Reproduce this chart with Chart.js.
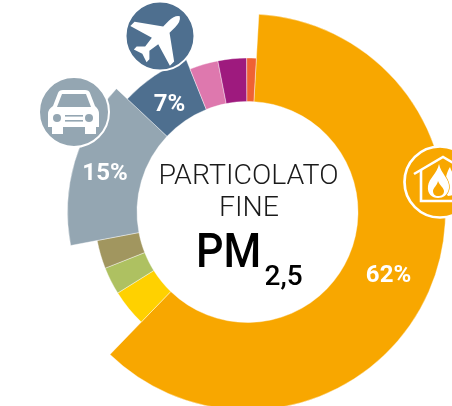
<!DOCTYPE html>
<html><head><meta charset="utf-8">
<style>
html,body{margin:0;padding:0;background:#fff;overflow:hidden;width:452px;height:406px}
#w{position:absolute;left:0;top:0;width:495px;height:424px}
</style>
<script src="https://cdn.jsdelivr.net/npm/chart.js@4"></script>
</head><body>
<div id="w"><canvas id="c" width="495" height="424"></canvas></div>
<script>
const categories = ['Riscaldamento','Altro 1','Altro 2','Altro 3','Trasporto su strada','Trasporto aereo','Altro 4','Altro 5','Altro 6'];
const shares = [61.3, 3.9, 2.9, 3.0, 15.0, 6.9, 3.0, 3.0, 1.0];
const radii = [198, 153, 153, 153, 180, 165, 154, 154, 154];
const colors = ['#F8A700','#FFD100','#AEC161','#A1965F','#94A6B2','#4E6F8F','#DE78AE','#9E1A7E','#EF6234'];
const percentLabels = ['62%','15%','7%'];
const titleLines = ['PARTICOLATO','FINE'];

const SANS = 'Roboto, sans-serif';
function ring(ctx,x,y,r,fill,w){ctx.beginPath();ctx.arc(x,y,r,0,Math.PI*2);ctx.fillStyle=fill;ctx.fill();ctx.lineWidth=w;ctx.strokeStyle='#fff';ctx.stroke();}
function drawCar(ctx){
  ring(ctx,74,112,35,'#94A6B2',2);
  ctx.fillStyle='#fff';
  ctx.beginPath();
  ctx.moveTo(53,106);ctx.lineTo(58,93);ctx.quadraticCurveTo(59,90,63,90);ctx.lineTo(85,90);ctx.quadraticCurveTo(89,90,90,93);ctx.lineTo(95,106);
  ctx.quadraticCurveTo(99,109,99,114);ctx.lineTo(99,127);ctx.lineTo(96,127);ctx.lineTo(96,134);ctx.lineTo(85,134);ctx.lineTo(85,127);
  ctx.lineTo(63,127);ctx.lineTo(63,134);ctx.lineTo(52,134);ctx.lineTo(52,127);ctx.lineTo(48,127);ctx.lineTo(48,114);ctx.quadraticCurveTo(48,109,53,106);ctx.closePath();ctx.fill();
  ctx.fillStyle='#94A6B2';
  ctx.beginPath();ctx.moveTo(57,107);ctx.lineTo(62,94);ctx.lineTo(86,94);ctx.lineTo(91,107);ctx.closePath();ctx.fill();
  ctx.beginPath();ctx.arc(57,118,4,0,7);ctx.fill();ctx.beginPath();ctx.arc(89,118,4,0,7);ctx.fill();
  ctx.fillRect(65,115,18,1.6);ctx.fillRect(65,120,18,1.6);
}
function drawPlane(ctx){
  ring(ctx,160,36,34.5,'#4E6F8F',2);
  ctx.save();ctx.translate(160,36);ctx.rotate(Math.PI/4);ctx.fillStyle='#fff';
  ctx.beginPath();
  ctx.moveTo(0,-28);ctx.quadraticCurveTo(4.5,-25,4.5,-17);ctx.lineTo(4.5,-9);ctx.lineTo(28,8);ctx.lineTo(28,14);ctx.lineTo(4.5,7);ctx.lineTo(3,18);
  ctx.lineTo(9,24);ctx.lineTo(9,28);ctx.lineTo(0,25);ctx.lineTo(-9,28);ctx.lineTo(-9,24);ctx.lineTo(-3,18);ctx.lineTo(-4.5,7);ctx.lineTo(-28,14);ctx.lineTo(-28,8);ctx.lineTo(-4.5,-9);ctx.lineTo(-4.5,-17);ctx.quadraticCurveTo(-4.5,-25,0,-28);
  ctx.closePath();ctx.fill();ctx.restore();
}
function drawHouse(ctx){
  ring(ctx,440,182,35.5,'#F8A700',2.7);
  ctx.strokeStyle='#fff';ctx.lineWidth=2.6;ctx.lineJoin='miter';
  ctx.beginPath();ctx.moveTo(414,174);ctx.lineTo(443,157);ctx.lineTo(472,174);ctx.stroke();
  ctx.beginPath();ctx.moveTo(421,170);ctx.lineTo(421,201);ctx.lineTo(470,201);ctx.lineTo(470,170);ctx.stroke();
  ctx.fillStyle='#fff';
  ctx.beginPath();ctx.moveTo(450,167);ctx.bezierCurveTo(452,175,460,180,459,188);ctx.bezierCurveTo(458,193,452,196,448,196);ctx.bezierCurveTo(444,192,444,176,450,167);ctx.closePath();ctx.fill();
  ctx.beginPath();ctx.moveTo(439,164);ctx.bezierCurveTo(441,174,450,179,449,188);ctx.bezierCurveTo(448,195,443,198,438,198);ctx.bezierCurveTo(432,198,427,194,428,186);ctx.bezierCurveTo(429,178,437,174,439,164);ctx.closePath();ctx.lineWidth=1.5;ctx.strokeStyle='#F8A700';ctx.stroke();ctx.fill();
  ctx.fillStyle='#F8A700';
  ctx.beginPath();ctx.moveTo(438,181);ctx.bezierCurveTo(440,186,444,188,444,191);ctx.bezierCurveTo(444,195,441,196,438,196);ctx.bezierCurveTo(435,196,433,194,433,191);ctx.bezierCurveTo(433,188,437,186,438,181);ctx.closePath();ctx.fill();
}
const customRadii = {
  id:'customRadii',
  afterDatasetsUpdate(chart){
    chart.getDatasetMeta(0).data.forEach((arc,i)=>{arc.outerRadius=radii[i];});
  }
};
const decor = {
  id:'decor',
  afterDatasetsDraw(chart){
    const ctx=chart.ctx;
    ctx.save();
    drawCar(ctx);drawPlane(ctx);drawHouse(ctx);
    ctx.textAlign='center';ctx.textBaseline='alphabetic';
    ctx.fillStyle='#fff';ctx.font='700 24px '+SANS;
    ctx.fillText(percentLabels[0],388.5,282);
    ctx.fillText(percentLabels[1],105,180);
    ctx.fillText(percentLabels[2],169.5,111);
    ctx.fillStyle='#1a1a1a';ctx.font='300 28.5px '+SANS;
    ctx.fillText(titleLines[0],248.5,183.5);
    ctx.fillText(titleLines[1],249,215.5);
    ctx.fillStyle='#000';ctx.textAlign='left';
    ctx.save();ctx.translate(196,267);ctx.scale(0.88,1);
    ctx.font='500 49px '+SANS;ctx.fillText('PM',0,0);ctx.restore();
    ctx.font='500 28px '+SANS;ctx.fillText('2,5',264.5,284.5);
    ctx.restore();
  }
};
new Chart(document.getElementById('c'),{
  type:'doughnut',
  data:{labels:categories,datasets:[{data:shares,backgroundColor:colors,borderWidth:0.4,borderColor:'#ffffff'}]},
  options:{
    responsive:false,animation:false,rotation:3.3,cutout:110.5,
    layout:{padding:14},
    plugins:{legend:{display:false},tooltip:{enabled:false}}
  },
  plugins:[customRadii,decor]
});
</script>
</body></html>
